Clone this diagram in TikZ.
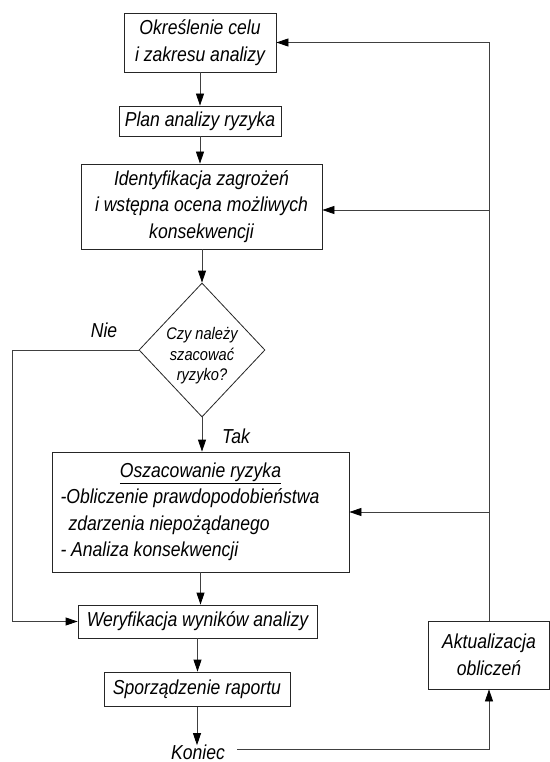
\documentclass[tikz,border=0pt]{standalone}
\usepackage{fontspec}
\setmainfont{Liberation Sans}[FakeStretch=0.87]
\usetikzlibrary{shapes.geometric,arrows.meta}
\newcommand\mainfnt{\itshape\fontsize{20.2}{26.5}\selectfont}
\newcommand\diafnt{\itshape\fontsize{16.8}{20.5}\selectfont}
\begin{document}
\begin{tikzpicture}[x=1pt,y=-1pt,
  box/.style={draw=black!85, line width=0.8pt, inner sep=0pt, align=center, font=\mainfnt},
  dia/.style={draw=black!85, line width=0.8pt, shape=diamond, inner sep=0pt, minimum width=126pt, minimum height=134pt},
  diat/.style={font=\diafnt, align=center, inner sep=0pt},
  lbl/.style={font=\mainfnt, inner sep=1pt},
  con/.style={draw=black!75, line width=0.8pt},
  arr/.style={con, -{Triangle[length=12pt,width=8pt,color=black]}}]
\useasboundingbox (0,0) rectangle (549,762);
\fill[white] (0,0) rectangle (549,762);
% nodes
\node[box, minimum width=152pt, minimum height=59pt] (b1) at (200,42.5) {Określenie celu\\i zakresu analizy};
\node[box, minimum width=162pt, minimum height=30pt] (plan) at (200,121) {Plan analizy ryzyka};
\node[box, minimum width=241pt, minimum height=85pt] (ident) at (201.5,206.5) {Identyfikacja zagrożeń\\i wstępna ocena możliwych\\konsekwencji};
\node[dia] (dec) at (202,350) {};
\node[diat] (dect) at ([yshift=-6pt]dec.center) {Czy należy\\szacować\\ryzyko?};
\node[box, minimum width=297pt, minimum height=120pt] (osz) at (200.5,512) {\parbox{280pt}{\centering\underline{Oszacowanie ryzyka}\par\raggedright -Obliczenie prawdopodobieństwa\\\hspace*{8pt}zdarzenia niepożądanego\\- Analiza konsekwencji}};
\node[box, minimum width=239pt, minimum height=33pt] (wer) at (197.5,621.5) {Weryfikacja wyników analizy};
\node[box, minimum width=186pt, minimum height=34pt] (spo) at (197,689) {Sporządzenie raportu};
\node[lbl, inner xsep=12pt, inner ysep=0pt, anchor=base] (kon) at (198,759) {Koniec};
\node[box, minimum width=121pt, minimum height=68pt] (akt) at (489,655) {Aktualizacja\\obliczeń};
\node[lbl] (nie) at (104,330) {Nie};
\node[lbl] (tak) at (236,436) {Tak};
% helper coordinates
\coordinate (lft) at (12,350);
\coordinate (tr) at (489,42.5);
\coordinate (r1) at (489,210);
\coordinate (r2) at (489,512);
% main flow
\draw[arr] (b1.south) -- (b1.south |- plan.north);
\draw[arr] (plan.south) -- (plan.south |- ident.north);
\draw[arr] (dec.north |- ident.south) -- (dec.north);
\draw[arr] (dec.south) -- (dec.south |- osz.north);
\draw[arr] (osz.south) -- (osz.south |- wer.north);
\draw[arr] (wer.south) -- (wer.south |- spo.north);
\draw[arr] ([yshift=-1pt]spo.south) -- ([yshift=-1pt]spo.south |- kon.north);
% Nie branch
\draw[arr] (dec.west) -- (lft) |- (wer.west);
% feedback loop
\draw[arr] ([yshift=2pt]kon.east) -| (akt.south);
\draw[con] (akt.north) -- (tr);
\draw[arr] (tr) -- (b1.east);
\draw[arr] (r1) -- (r1 -| ident.east);
\draw[arr] (r2) -- (r2 -| osz.east);
\end{tikzpicture}
\end{document}
